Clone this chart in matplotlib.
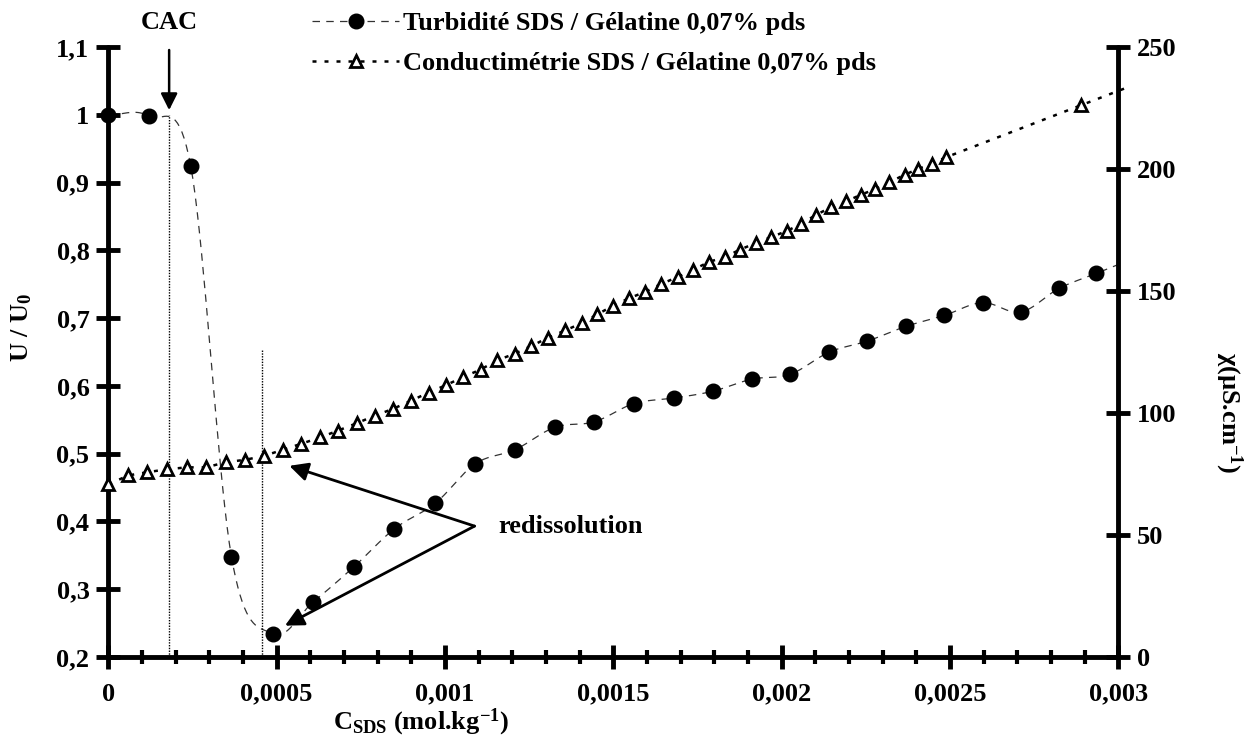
import numpy as np
import matplotlib
matplotlib.use('Agg')
import matplotlib.pyplot as plt
from matplotlib.lines import Line2D

plt.rcParams['font.family'] = ['Liberation Serif', 'DejaVu Serif']
plt.rcParams['font.weight'] = 'bold'
plt.rcParams['mathtext.fontset'] = 'custom'
plt.rcParams['mathtext.rm'] = 'Liberation Serif:bold'
plt.rcParams['mathtext.it'] = 'Liberation Serif:bold'
plt.rcParams['mathtext.bf'] = 'Liberation Serif:bold'

# turbidity U/U0 vs C_SDS (mol/kg)
turb_x = [0, 0.000121, 0.000245, 0.000366, 0.000489, 0.000609, 0.00073, 0.00085,
          0.000972, 0.00109, 0.001209, 0.001327, 0.001444, 0.001562, 0.001679,
          0.001795, 0.001912, 0.002025, 0.002142, 0.002254, 0.00237, 0.002483,
          0.002597, 0.00271, 0.002824, 0.002934]
turb_y = [1.0, 0.998, 0.925, 0.348, 0.234, 0.281, 0.333, 0.389, 0.427, 0.485,
          0.506, 0.539, 0.547, 0.574, 0.582, 0.592, 0.610, 0.617, 0.650, 0.666,
          0.688, 0.704, 0.723, 0.709, 0.744, 0.766]

# conductivity (uS/cm) vs C_SDS, in 1e-3 mol/kg
cond_x = [0, 0.060, 0.116, 0.174, 0.233, 0.291, 0.349, 0.407, 0.463, 0.518,
          0.574, 0.630, 0.683, 0.738, 0.792, 0.846, 0.899, 0.952, 1.003, 1.055,
          1.106, 1.155, 1.207, 1.257, 1.307, 1.358, 1.407, 1.452, 1.498, 1.546,
          1.595, 1.642, 1.692, 1.738, 1.785, 1.833, 1.876, 1.924, 1.968, 2.015,
          2.058, 2.103, 2.147, 2.192, 2.235, 2.278, 2.320, 2.365, 2.404, 2.447,
          2.487, 2.889]
cond_y = [70.7, 74.4, 75.7, 76.9, 77.7, 77.7, 79.8, 80.8, 82.4, 84.9, 87.4, 90.0,
          92.8, 95.8, 98.9, 101.7, 105.0, 108.4, 111.4, 114.8, 117.8, 121.6, 124.3,
          127.5, 130.9, 133.9, 136.9, 140.4, 143.9, 147.0, 149.7, 152.9, 155.8,
          158.8, 162.0, 164.0, 167.0, 169.7, 172.1, 174.6, 177.6, 181.3, 184.4,
          186.8, 189.5, 191.8, 194.6, 197.7, 200.0, 202.3, 204.8, 226.2]

x_ticks = [0, 0.0005, 0.001, 0.0015, 0.002, 0.0025, 0.003]
x_labels = ['0', '0,0005', '0,001', '0,0015', '0,002', '0,0025', '0,003']
y_ticks = [0.2, 0.3, 0.4, 0.5, 0.6, 0.7, 0.8, 0.9, 1.0, 1.1]
y_labels = ['0,2', '0,3', '0,4', '0,5', '0,6', '0,7', '0,8', '0,9', '1', '1,1']
y2_ticks = [0, 50, 100, 150, 200, 250]

cac_x = 0.000181
redis_x = 0.000457

lab_turb = 'Turbidité SDS / Gélatine 0,07% pds'
lab_cond = 'Conductimétrie SDS / Gélatine 0,07% pds'

FS = 19


def smooth(x, y, n=20):
    # catmull-rom curve through the points (like a smoothed excel line)
    x = np.asarray(x, float)
    y = np.asarray(y, float)
    px = np.concatenate([[2 * x[0] - x[1]], x, [2 * x[-1] - x[-2]]])
    py = np.concatenate([[2 * y[0] - y[1]], y, [2 * y[-1] - y[-2]]])
    t = np.linspace(0, 1, n)[:, None]
    outx, outy = [], []
    for i in range(1, len(px) - 2):
        for p, out in ((px, outx), (py, outy)):
            p0, p1, p2, p3 = p[i - 1], p[i], p[i + 1], p[i + 2]
            c = 0.5 * ((2 * p1) + (-p0 + p2) * t + (2 * p0 - 5 * p1 + 4 * p2 - p3) * t ** 2
                       + (-p0 + 3 * p1 - 3 * p2 + p3) * t ** 3)
            out.append(c.ravel())
    return np.concatenate(outx), np.concatenate(outy)


def extend(x, y, xend):
    slope = (y[-1] - y[-2]) / (x[-1] - x[-2])
    return list(x) + [xend], list(y) + [y[-1] + slope * (xend - x[-1])]


fig = plt.figure(figsize=(12.58, 7.38), dpi=100)
ax = fig.add_axes([0.086, 0.110, 0.803, 0.826])
ax2 = ax.twinx()

# turbidity
sx, sy = smooth(turb_x, turb_y)
ex, ey = extend(turb_x[-2:], turb_y[-2:], 0.00302)
ax.plot(np.concatenate([sx, ex[1:]]), np.concatenate([sy, ey[1:]]),
        color='#333333', lw=0.9, ls=(0, (6, 5)), clip_on=False, zorder=2)
ax.plot(turb_x, turb_y, 'o', color='black', ms=10.5, clip_on=False, zorder=5)

# conductivity
cx = np.array(cond_x) * 1e-3
ex, ey = extend(cx[-2:], cond_y[-2:], 0.00302)
ax2.plot(list(cx) + ex[1:], list(cond_y) + ey[1:], color='black', lw=1.8,
         ls=(0, (1.6, 3.2)), clip_on=False, zorder=2)
ax2.plot(cx, cond_y, '^', mfc='white', mec='black', mew=2, ms=9.2,
         clip_on=False, zorder=4)

# vertical dotted lines
ax.vlines(cac_x, 0.2, 1.0, color='black', lw=1, ls=(0, (1, 1)))
ax.vlines(redis_x, 0.2, 0.655, color='black', lw=1, ls=(0, (1, 1)))

# CAC arrow
ax.annotate('', xy=(cac_x, 1.003), xytext=(cac_x, 1.1),
            arrowprops=dict(arrowstyle='-|>', color='black', lw=1.8, mutation_scale=25))
ax.text(cac_x, 1.12, 'CAC', ha='center', va='bottom', fontsize=FS, fontweight='bold')

# redissolution arrows
ax.text(0.00116, 0.392, 'redissolution', ha='left', va='center', fontsize=FS, fontweight='bold')
for tip in [(0.000538, 0.482), (0.000525, 0.246)]:
    ax.annotate('', xy=tip, xytext=(0.001088, 0.393),
                arrowprops=dict(arrowstyle='-|>', color='black', lw=2, mutation_scale=28,
                                shrinkA=0, shrinkB=0))

# axes
ax.set_xlim(0, 0.003)
ax.set_ylim(0.2, 1.1)
ax2.set_ylim(0, 250)
ax.set_xticks(x_ticks)
ax.set_xticklabels(x_labels)
ax.set_xticks(np.arange(0, 0.00301, 0.0001), minor=True)
ax.set_yticks(y_ticks)
ax.set_yticklabels(y_labels)
ax2.set_yticks(y2_ticks)

for a in (ax, ax2):
    a.spines['top'].set_visible(False)
    for s in a.spines.values():
        s.set_linewidth(3.5)
        s.set_capstyle('round')
ax.spines['right'].set_visible(False)
ax2.spines['left'].set_visible(False)
ax2.spines['bottom'].set_visible(False)

ax.tick_params(axis='both', which='major', direction='inout', length=17, width=3.5,
               labelsize=FS, pad=5)
ax.tick_params(axis='x', which='minor', direction='inout', length=10, width=3)
ax.tick_params(axis='x', which='major', pad=10)
ax2.tick_params(axis='y', which='major', direction='inout', length=17, width=3.5,
                labelsize=FS, pad=5)
for lbl in ax.get_xticklabels() + ax.get_yticklabels() + ax2.get_yticklabels():
    lbl.set_fontweight('bold')

ax.set_xlabel('$C_{SDS}$ (mol.kg$^{-1}$)', fontsize=FS, fontweight='bold')
ax.xaxis.set_label_coords(0.31, -0.082)
ax.set_ylabel('U / U$_0$', fontsize=FS, fontweight='bold')
ax.yaxis.set_label_coords(-0.073, 0.54)
ax2.set_ylabel('χ(µS.cm$^{-1}$)', fontsize=FS, fontweight='bold', rotation=-90)
ax2.yaxis.set_label_coords(1.125, 0.40)

handles = [Line2D([], [], color='#333333', lw=0.9, ls=(0, (6, 5)), marker='o', ms=10.5,
                  mfc='black', mec='black'),
           Line2D([], [], color='black', lw=1.8, ls=(0, (1.6, 3.2)), marker='^', ms=9.2,
                  mfc='white', mec='black', mew=2)]
fig.legend(handles, [lab_turb, lab_cond], loc='upper left', bbox_to_anchor=(0.248, 0.984),
           frameon=False, handlelength=3.3, handletextpad=0.15, borderpad=0,
           borderaxespad=0, labelspacing=0.62, prop={'weight': 'bold', 'size': FS})

fig.savefig('out.png', dpi=100)
